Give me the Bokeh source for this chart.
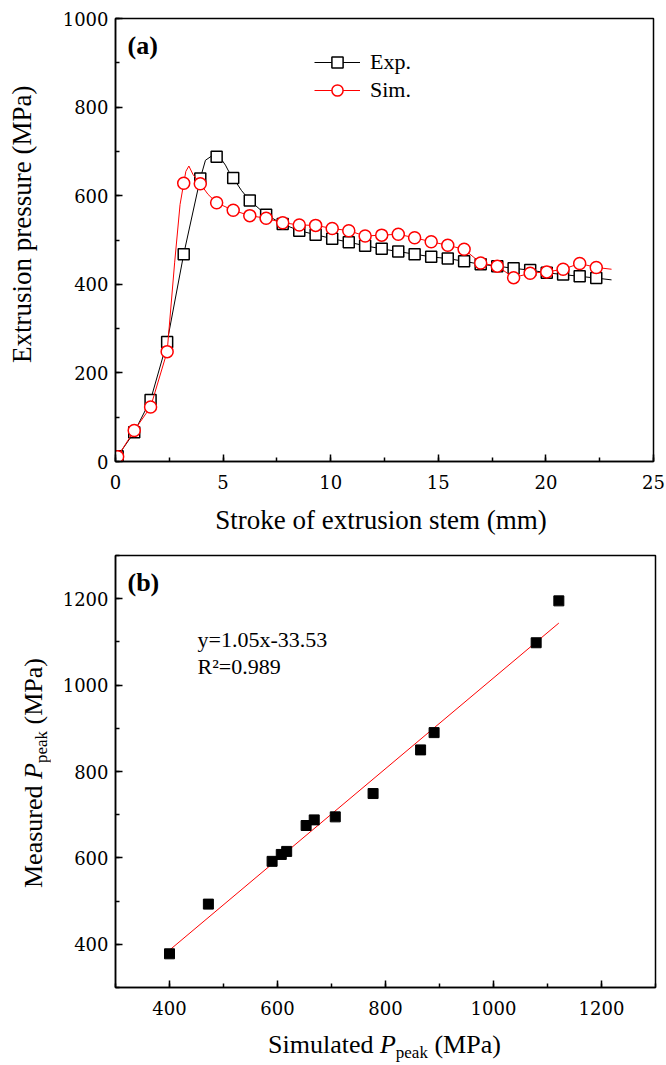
from math import pi
from bokeh.plotting import figure
from bokeh.models import Range1d, SingleIntervalTicker, Label, Legend, LegendItem, Div
from bokeh.layouts import column, row
from bokeh.embed import file_html
from bokeh.resources import INLINE

FONT = "Liberation Serif"
TICK_FONT = "DejaVu Serif"

# ---------------- Panel (a) data ----------------
stroke = [0.1, 0.87, 1.63, 2.4, 3.17, 3.94, 4.7, 5.47, 6.24, 7.0, 7.77, 8.54, 9.3, 10.07,
          10.84, 11.6, 12.37, 13.14, 13.9, 14.67, 15.44, 16.2, 16.97, 17.74, 18.5, 19.27,
          20.04, 20.8, 21.57, 22.34]
exp_pressure = [12, 66, 139, 270, 468, 639, 688, 640, 589, 557, 536, 521, 512, 503,
                495, 487, 480, 474, 468, 462, 458, 452, 445, 441, 436, 432,
                426, 422, 418, 414]
sim_pressure = [11, 70, 123, 248, 628, 627, 584, 567, 555, 549, 539, 534, 533, 526,
                521, 509, 511, 513, 505, 496, 488, 479, 448, 441, 415, 425,
                428, 434, 447, 438]

# curves (denser near the peaks)
exp_line_stroke = [0.1, 0.87, 1.63, 2.4, 3.17, 3.94, 4.18, 4.45, 4.7, 4.95, 5.11, 5.27, 5.47,
                   5.85, 6.24, 7.0, 7.77, 8.54, 9.3, 10.07, 10.84, 11.6, 12.37, 13.14, 13.9,
                   14.67, 15.44, 16.2, 16.97, 17.74, 18.5, 19.27, 20.04, 20.8, 21.57, 22.34, 23.05]
exp_line_pressure = [12, 66, 139, 270, 468, 639, 680, 689, 688, 680, 669, 654, 640,
                     612, 589, 557, 536, 521, 512, 503, 495, 487, 480, 474, 468,
                     462, 458, 452, 445, 441, 436, 432, 426, 422, 418, 414, 410]
sim_line_stroke = [0.1, 0.87, 1.63, 2.4, 2.75, 3.0, 3.17, 3.27, 3.41, 3.6, 3.94, 4.3, 4.7,
                   5.47, 6.24, 7.0, 7.77, 8.54, 9.3, 10.07, 10.84, 11.6, 12.37, 13.14, 13.9,
                   14.67, 15.44, 16.2, 16.97, 17.74, 18.5, 19.27, 20.04, 20.8, 21.57, 22.34, 23.05]
sim_line_pressure = [11, 70, 123, 248, 450, 580, 628, 655, 667, 648, 627, 603, 584,
                     567, 555, 549, 539, 534, 533, 526, 521, 509, 511, 513, 505,
                     496, 488, 479, 448, 441, 415, 425, 428, 434, 447, 438, 434]

# ---------------- Panel (b) data ----------------
simulated_peak = [400, 472, 590, 607, 617, 653, 668, 707, 777, 865, 890, 1079, 1121]
measured_peak = [378, 493, 592, 608, 615, 675, 688, 695, 749, 850, 890, 1098, 1195]
fit_x = [400, 1121]
fit_y = [386.5, 1143.6]
fit_text = "y=1.05x-33.53"
r2_text = "R\u00b2=0.989"


def style_axis(ax, font=TICK_FONT, size="18px"):
    ax.axis_line_width = 1.5
    ax.axis_line_color = "black"
    ax.major_tick_in = 7
    ax.major_tick_out = 0
    ax.minor_tick_in = 4
    ax.minor_tick_out = 0
    ax.major_tick_line_width = 1.5
    ax.minor_tick_line_width = 1.5
    ax.major_label_text_font = font
    ax.major_label_text_font_size = size
    ax.major_label_text_color = "black"


def style_plot(p, xint, yint):
    p.outline_line_color = "black"
    p.outline_line_width = 1.5
    p.xgrid.visible = False
    p.ygrid.visible = False
    p.xaxis.ticker = SingleIntervalTicker(interval=xint, num_minor_ticks=2)
    p.yaxis.ticker = SingleIntervalTicker(interval=yint, num_minor_ticks=2)
    style_axis(p.xaxis[0])
    style_axis(p.yaxis[0])
    p.xaxis.major_label_standoff = 13
    p.yaxis.major_label_standoff = 7


def lab(p, x, y, text, size, style="normal"):
    p.add_layout(Label(x=x, y=y, x_units="screen", y_units="screen", text=text,
                       text_font=FONT, text_font_size=f"{size}px", text_font_style=style,
                       text_align="left", text_baseline="alphabetic", text_color="black"))


# ---------------- Figure (a) ----------------
pa = figure(width=616, height=499, x_range=Range1d(0, 25), y_range=Range1d(0, 1000),
            output_backend="svg", toolbar_location=None,
            min_border_left=65, min_border_right=13, min_border_top=18, min_border_bottom=38)
style_plot(pa, 5, 200)

la = pa.line(exp_line_stroke, exp_line_pressure, line_color="black", line_width=1)
ma = pa.scatter(stroke, exp_pressure, marker="square", size=11, line_color="black",
                line_width=1.5, fill_color="white")
lb = pa.line(sim_line_stroke, sim_line_pressure, line_color="red", line_width=1)
mb = pa.scatter(stroke, sim_pressure, marker="circle", size=12, line_color="red",
                line_width=1.5, fill_color="white")

legend = Legend(items=[LegendItem(label="Exp.", renderers=[la, ma]),
                       LegendItem(label="Sim.", renderers=[lb, mb])],
                location=(199, 357), label_text_font=FONT, label_text_font_size="22px",
                label_text_color="black", glyph_width=46, glyph_height=28, label_height=28,
                label_standoff=10, spacing=0, padding=0, margin=0,
                border_line_color=None, background_fill_alpha=0)
pa.add_layout(legend)

lab(pa, 12, 416, "(a)", 26, style="bold")

# ---------------- Figure (b) ----------------
pb = figure(width=616, height=480, x_range=Range1d(300, 1300), y_range=Range1d(300, 1300),
            output_backend="svg", toolbar_location=None,
            min_border_left=65, min_border_right=11, min_border_top=10, min_border_bottom=38)
style_plot(pb, 200, 200)

pb.line(fit_x, fit_y, line_color="red", line_width=1)
pb.scatter(simulated_peak, measured_peak, marker="square", size=10, line_color="black",
           fill_color="black")

lab(pb, 12, 405, "(b)", 26, style="bold")
lab(pb, 82, 348, fit_text, 22)
lab(pb, 82, 321, r2_text, 22)

# ---------------- axis titles (HTML text, serif, with sub/italic) ----------------
def txt(size):
    return (f"font-family:'Liberation Serif'; font-size:{size}px; line-height:30px; "
            "color:black; white-space:nowrap;")


SUB = "font-size:17px; vertical-align:-5px; line-height:0;"

xlabel_a = Div(width=616, height=46, margin=0, text=(
    f'<div style="position:relative; left:23px; top:6px; width:616px; text-align:center; '
    f'{txt(27)}">Stroke of extrusion stem (mm)</div>'))
ylabel_a = Div(width=50, height=545, margin=0, text=(
    f'<div style="position:relative; left:7px; top:363px; width:300px; '
    f'transform-origin:0 0; transform:rotate(-90deg); {txt(27)}">'
    f'Extrusion pressure (MPa)</div>'))

xlabel_b = Div(width=616, height=40, margin=0, text=(
    f'<div style="position:relative; left:218px; top:5px; {txt(26)}">'
    f'Simulated <i>P</i><sub style="{SUB}">peak</sub> (MPa)</div>'))
ylabel_b = Div(width=50, height=520, margin=0, text=(
    f'<div style="position:relative; left:19px; top:343px; width:260px; '
    f'transform-origin:0 0; transform:rotate(-90deg); {txt(26)}">'
    f'Measured <i>P</i><sub style="{SUB}">peak</sub> (MPa)</div>'))

top = row(ylabel_a, column(pa, xlabel_a, spacing=0), spacing=0)
bottom = row(ylabel_b, column(pb, xlabel_b, spacing=0), spacing=0)
layout = column(top, bottom, spacing=0)
open("out.html", "w").write(file_html(layout, INLINE))
